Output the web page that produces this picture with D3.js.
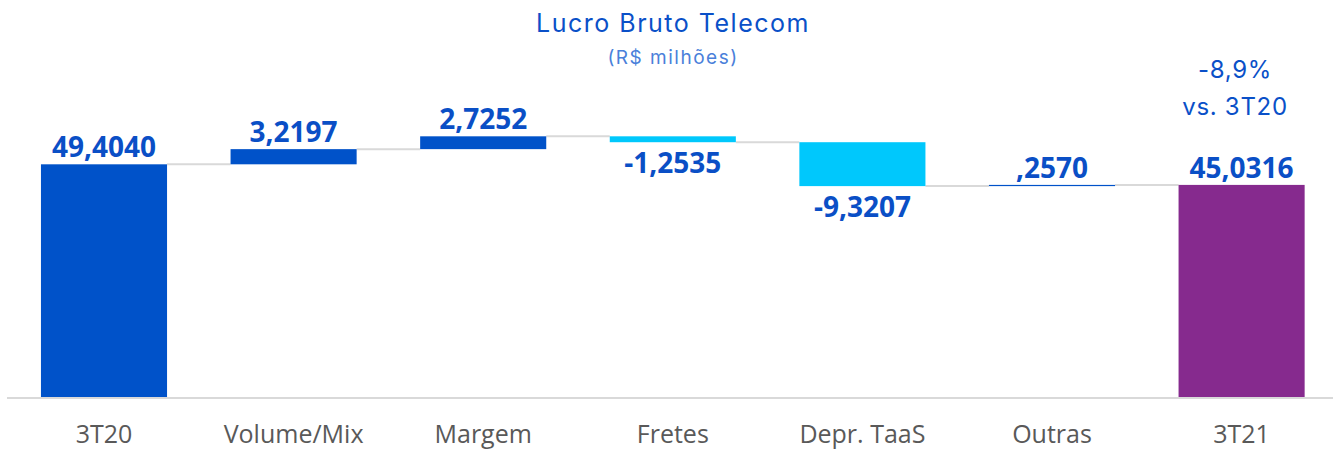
<!DOCTYPE html>
<html>
<head>
<meta charset="utf-8">
<script src="https://cdn.jsdelivr.net/npm/d3@7"></script>
<style>
  body { margin: 0; background: #fff; }
  svg { display: block; }
</style>
</head>
<body>
<script>
var width = 1333;
var height = 452;

var categories = ["3T20", "Volume/Mix", "Margem", "Fretes", "Depr. TaaS", "Outras", "3T21"];
var values = [49.4040, 3.2197, 2.7252, -1.2535, -9.3207, 0.2570, 45.0316];
var kinds = ["total", "delta", "delta", "delta", "delta", "delta", "total"];
var titleText = "Lucro Bruto Telecom";
var subtitleText = "(R$ milhões)";
var noteLines = ["-8,9%", "vs. 3T20"];

/* cores */
var colors = { total0: "#0052c9", up: "#0052c9", down: "#00c8fc", total1: "#862a8e" };

var svg = d3.select("body").append("svg")
  .attr("width", width)
  .attr("height", height);

var x = d3.scaleBand()
  .domain(categories)
  .range([9.2, 1336.4])
  .paddingInner(0.335)
  .paddingOuter(0.1675);

var y = d3.scaleLinear()
  .domain([0, 50])
  .range([397, 161.5]);

// acumulado
var running = 0;
var bars = categories.map(function (c, i) {
  var v = values[i], start, end, color;
  if (kinds[i] == "total") {
    start = 0; end = v; running = v;
    color = i == 0 ? colors.total0 : colors.total1;
  } else {
    start = running; end = running + v; running = end;
    color = v >= 0 ? colors.up : colors.down;
  }
  return { cat: c, value: v, start: start, end: end, color: color };
});

function fmt(v) {
  var s = d3.format(".4f")(Math.abs(v)).replace(".", ",");
  if (Math.abs(v) < 1) s = s.replace(/^0/, "");
  return (v < 0 ? "-" : "") + s;
}

/* linhas de ligação */
svg.append("g")
  .selectAll("line")
  .data(bars.slice(0, -1))
  .enter().append("line")
  .attr("x1", function (d) { return x(d.cat) + x.bandwidth(); })
  .attr("x2", function (d, i) { return x(categories[i + 1]); })
  .attr("y1", function (d) { return y(d.end); })
  .attr("y2", function (d) { return y(d.end); })
  .attr("stroke", "#d9d9d9")
  .attr("stroke-width", 2);

/* eixo */
svg.append("line")
  .attr("x1", 7).attr("x2", width)
  .attr("y1", 398).attr("y2", 398)
  .attr("stroke", "#d9d9d9")
  .attr("stroke-width", 2);

/* barras */
svg.append("g")
  .selectAll("rect")
  .data(bars)
  .enter().append("rect")
  .attr("x", function (d) { return x(d.cat); })
  .attr("width", x.bandwidth())
  .attr("y", function (d) { return y(Math.max(d.start, d.end)); })
  .attr("height", function (d) { return Math.max(1.2, Math.abs(y(d.start) - y(d.end))); })
  .attr("fill", function (d) { return d.color; });

/* rótulos de valor */
svg.append("g")
  .selectAll("text")
  .data(bars)
  .enter().append("text")
  .attr("x", function (d) { return x(d.cat) + x.bandwidth() / 2; })
  .attr("y", function (d) {
    if (d.value < 0) return y(Math.min(d.start, d.end)) + 31;
    return y(Math.max(d.start, d.end)) - 7;
  })
  .attr("text-anchor", "middle")
  .attr("font-family", "'Open Sans', 'Noto Sans', sans-serif")
  .attr("font-weight", "bold")
  .attr("font-size", 28)
  .attr("fill", "#0a4fc6")
  .text(function (d) { return fmt(d.value); });

/* categorias */
svg.append("g")
  .selectAll("text")
  .data(categories)
  .enter().append("text")
  .attr("x", function (d) { return x(d) + x.bandwidth() / 2; })
  .attr("y", 443)
  .attr("text-anchor", "middle")
  .attr("font-family", "'Open Sans', 'Noto Sans', sans-serif")
  .attr("font-size", 25)
  .attr("fill", "#595959")
  .text(function (d) { return d; });

/* título */
svg.append("text")
  .attr("x", 673)
  .attr("y", 32)
  .attr("text-anchor", "middle")
  .attr("font-family", "Inter, 'Noto Sans', sans-serif")
  .attr("font-size", 25)
  .attr("letter-spacing", 1.5)
  .attr("fill", "#0a50c8")
  .text(titleText);

svg.append("text")
  .attr("x", 673)
  .attr("y", 64)
  .attr("text-anchor", "middle")
  .attr("font-family", "Inter, 'Noto Sans', sans-serif")
  .attr("font-size", 19)
  .attr("letter-spacing", 1.5)
  .attr("fill", "#4a80da")
  .text(subtitleText);

/* variação */
svg.append("g")
  .selectAll("text")
  .data(noteLines)
  .enter().append("text")
  .attr("x", 1235)
  .attr("y", function (d, i) { return 78 + i * 37; })
  .attr("text-anchor", "middle")
  .attr("font-family", "Inter, 'Noto Sans', sans-serif")
  .attr("font-size", 24)
  .attr("letter-spacing", 0.7)
  .attr("fill", "#0a50c8")
  .text(function (d) { return d; });
</script>
</body>
</html>
